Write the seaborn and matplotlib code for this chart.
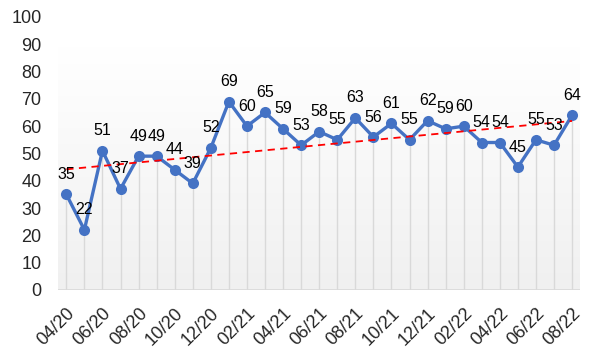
import numpy as np
import pandas as pd
import matplotlib
matplotlib.use("Agg")
import matplotlib.pyplot as plt
import seaborn as sns

# Monthly values, 04/20 .. 08/22
months = ["04/20", "05/20", "06/20", "07/20", "08/20", "09/20", "10/20", "11/20", "12/20",
          "01/21", "02/21", "03/21", "04/21", "05/21", "06/21", "07/21", "08/21", "09/21",
          "10/21", "11/21", "12/21", "01/22", "02/22", "03/22", "04/22", "05/22", "06/22",
          "07/22", "08/22"]
values = [35, 22, 51, 37, 49, 49, 44, 39, 52, 69, 60, 65, 59, 53, 58, 55, 63, 56,
          61, 55, 62, 59, 60, 54, 54, 45, 55, 53, 64]

df = pd.DataFrame({"idx": range(len(months)), "month": months, "value": values})

sns.set_style("white")
plt.rcParams["font.family"] = ["Liberation Sans", "DejaVu Sans"]

fig = plt.figure(figsize=(6, 3.61), dpi=100)
ax = fig.add_axes([0.097, 0.197, 0.870, 0.756])

n = len(months)
xmin, xmax = -0.45, n - 1 + 0.45
ax.set_xlim(xmin, xmax)
ax.set_ylim(0, 100)

# gradient background (white at top -> light gray at bottom)
grad = np.linspace(0, 1, 256).reshape(-1, 1)
cmap = matplotlib.colors.LinearSegmentedColormap.from_list("g", ["#f0f0f0", "#ffffff"])
ax.imshow(grad, extent=[xmin, xmax, 0, 89], origin="lower", aspect="auto",
          cmap=cmap, zorder=0)

# drop lines
ax.vlines(df["idx"], 0, df["value"], color="#d9d9d9", lw=1, zorder=1)
ax.axhline(0, color="#d9d9d9", lw=1.2, zorder=1)

sns.lineplot(data=df, x="idx", y="value", ax=ax, color="#4472c4", lw=2.4,
             marker="o", markersize=8, markeredgewidth=0, zorder=3)

# linear trend
k, b = np.polyfit(df["idx"], df["value"], 1)
xt = np.array([0, n - 1])
ax.plot(xt, k * xt + b, color="#ff0000", lw=1.3, ls=(0, (4, 3)), zorder=4)

for i, v in zip(df["idx"], df["value"]):
    ax.annotate(str(v), (i, v), xytext=(0, 9), textcoords="offset points",
                ha="center", va="bottom", fontsize=11.5, color="#000000", zorder=5)

ax.set_xticks(range(0, n, 2))
ax.set_xticklabels(months[::2], rotation=45, ha="right", rotation_mode="anchor",
                   fontsize=13)
ax.set_yticks(range(0, 101, 10))
ax.tick_params(axis="y", labelsize=13, length=0, pad=12)
ax.tick_params(axis="x", length=0, pad=11)
ax.set_xlabel("")
ax.set_ylabel("")
for s in ax.spines.values():
    s.set_visible(False)

fig.savefig("out.png", dpi=100)
